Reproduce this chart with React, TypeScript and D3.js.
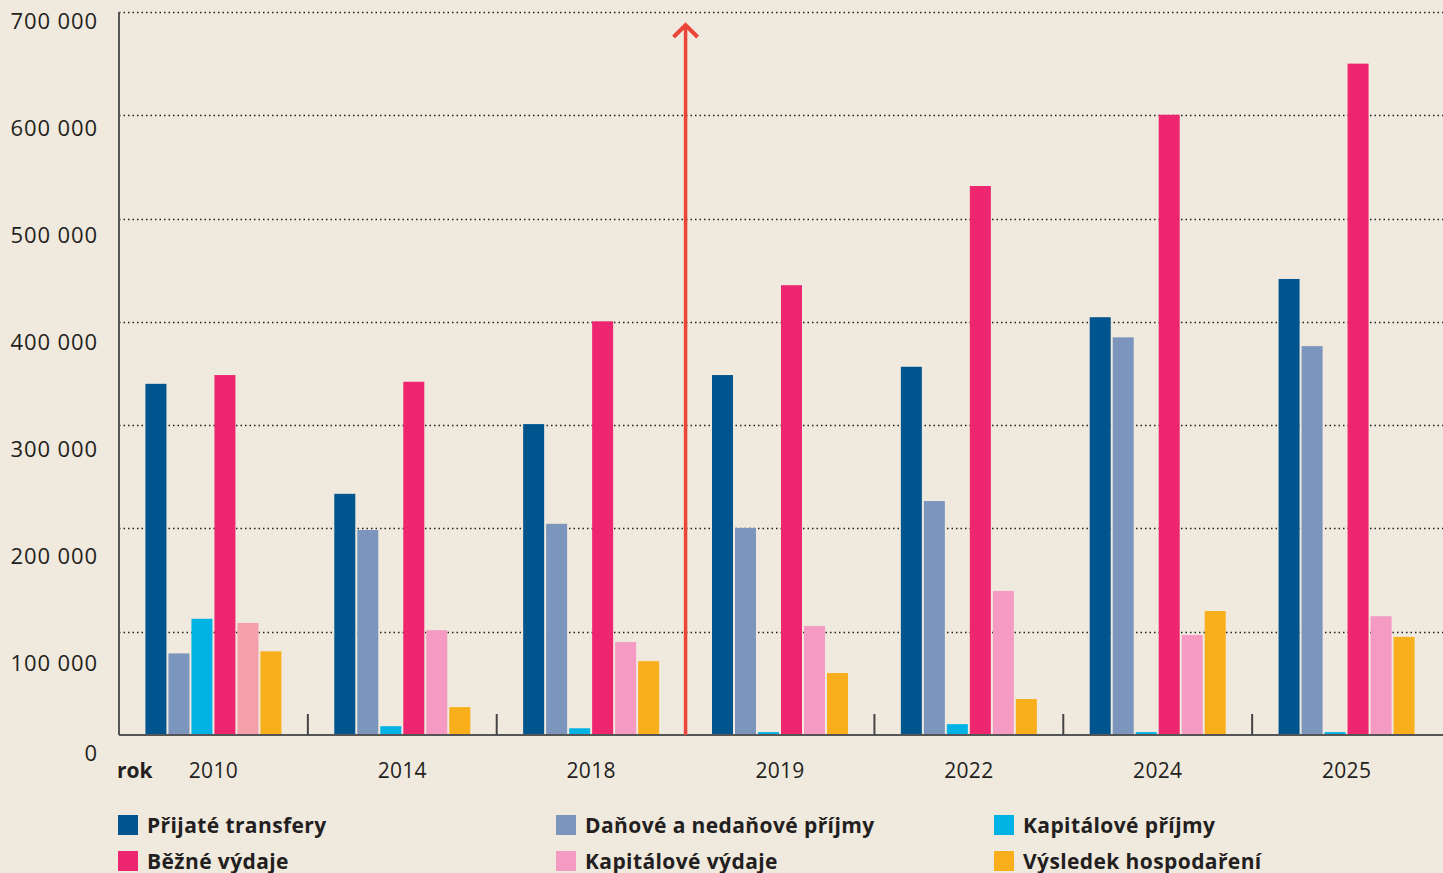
import React from "react";
import * as d3 from "d3";

const years = ["2010", "2014", "2018", "2019", "2022", "2024", "2025"];
const seriesNames = [
  "Přijaté transfery",
  "Daňové a nedaňové příjmy",
  "Kapitálové příjmy",
  "Běžné výdaje",
  "Kapitálové výdaje",
  "Výsledek hospodaření",
];
const seriesColors = ["#00558e", "#7b95bd", "#00b3e4", "#ee2670", "#f49ac3", "#f9ae1b"];

const prijateTransfery = [340000, 233500, 301000, 348500, 356500, 404500, 441500];
const danovePrijmy = [79000, 198500, 204500, 200500, 226500, 385000, 376500];
const kapitalovePrijmy = [112500, 8500, 6500, 2800, 10500, 2800, 2800];
const bezneVydaje = [348500, 342000, 400500, 435500, 531500, 600500, 650000];
const kapitaloveVydaje = [108500, 101500, 90000, 105500, 139500, 96800, 115000];
const vysledekHospodareni = [81000, 27000, 71500, 60000, 34800, 120000, 95000];

const seriesValues = [
  prijateTransfery,
  danovePrijmy,
  kapitalovePrijmy,
  bezneVydaje,
  kapitaloveVydaje,
  vysledekHospodareni,
];

const yTicks = [0, 100000, 200000, 300000, 400000, 500000, 600000, 700000];

const W = 1443;
const H = 873;
const left = 119;
const right = 1441;
const top = 12;
const bottom = 735;
const FONT = "'Open Sans', 'Noto Sans', sans-serif";
const TEXT = "#231f20";

export default function App() {
  const y = d3.scaleLinear().domain([0, 700000]).range([bottom, top]);
  // label positions in the original are slightly offset from gridlines
  const yLabel = d3.scaleLinear().domain([0, 100000, 700000]).range([753, 663, 21]);
  const x0 = d3.scaleBand<string>().domain(years).range([left, right]).padding(0);
  const barStep = 23;
  const barW = 21;
  const x1 = d3
    .scaleBand<number>()
    .domain(d3.range(seriesNames.length))
    .range([0, barStep * seriesNames.length - 2])
    .paddingInner(2 / 23);
  const groupOffset = (x0.bandwidth() - (barStep * seriesNames.length - 2)) / 2;
  const fmt = (v: number) => d3.format(",")(v).replace(/,/g, " ");

  const boundaries = years.slice(1).map((yr) => x0(yr) as number);
  const arrowX = x0("2019") as number;

  return (
    <svg
      width={W}
      height={H}
      style={{ position: "absolute", left: 0, top: 0, display: "block" }}
      fontFamily={FONT}
    >
      <rect x={0} y={0} width={W} height={H} fill="#f0e9de" />
      {/* gridlines */}
      {yTicks.slice(1).map((t) => (
        <line
          key={t}
          x1={left}
          x2={W}
          y1={Math.round(y(t)) + 0.5}
          y2={Math.round(y(t)) + 0.5}
          stroke="#222"
          strokeWidth={1.3}
          strokeDasharray="1.5 3"
        />
      ))}
      {/* y labels */}
      {yTicks.map((t) => (
        <text
          key={t}
          x={98}
          y={yLabel(t)}
          dy="0.35em"
          textAnchor="end"
          fontSize={22}
          letterSpacing={0.9}
          fill={TEXT}
        >
          {fmt(t)}
        </text>
      ))}
      {/* bars */}
      {years.map((yr, gi) => (
        <g key={yr} transform={`translate(${(x0(yr) as number) + groupOffset},0)`}>
          {seriesValues.map((vals, si) => (
            <rect
              key={si}
              x={x1(si)}
              width={barW}
              y={y(vals[gi])}
              height={bottom - y(vals[gi])}
              fill={si === 4 && gi === 0 ? "#f59faa" : seriesColors[si]}
            />
          ))}
        </g>
      ))}
      {/* axes */}
      <line x1={left} x2={left} y1={top} y2={bottom} stroke="#555" strokeWidth={2} />
      <line x1={left} x2={W} y1={bottom} y2={bottom} stroke="#555" strokeWidth={2} />
      {boundaries.map((b, i) => (
        <line key={i} x1={b} x2={b} y1={714} y2={bottom} stroke="#444" strokeWidth={2} />
      ))}
      {/* red arrow */}
      <line x1={arrowX} x2={arrowX} y1={26} y2={bottom} stroke="#eb4439" strokeWidth={3.5} />
      <polyline
        points={`${arrowX - 12},${37} ${arrowX},${25} ${arrowX + 12},${37}`}
        fill="none"
        stroke="#eb4439"
        strokeWidth={4}
      />
      {/* x labels */}
      <text x={117} y={778} fontSize={21} fontWeight={700} fill={TEXT}>
        rok
      </text>
      {years.map((yr) => (
        <text
          key={yr}
          x={(x0(yr) as number) + x0.bandwidth() / 2}
          y={778}
          textAnchor="middle"
          fontSize={21}
          letterSpacing={0.3}
          fill={TEXT}
        >
          {yr}
        </text>
      ))}
      {/* legend */}
      {seriesNames.map((name, i) => {
        const col = i % 3;
        const row = Math.floor(i / 3);
        const lx = 118 + col * 438;
        const ly = 815 + row * 36;
        return (
          <g key={name}>
            <rect x={lx} y={ly} width={20} height={20} fill={seriesColors[i]} />
            <text
              x={lx + 29}
              y={ly + 18}
              fontSize={21}
              fontWeight={700}
              letterSpacing={0.4}
              fill={TEXT}
            >
              {name}
            </text>
          </g>
        );
      })}
    </svg>
  );
}
